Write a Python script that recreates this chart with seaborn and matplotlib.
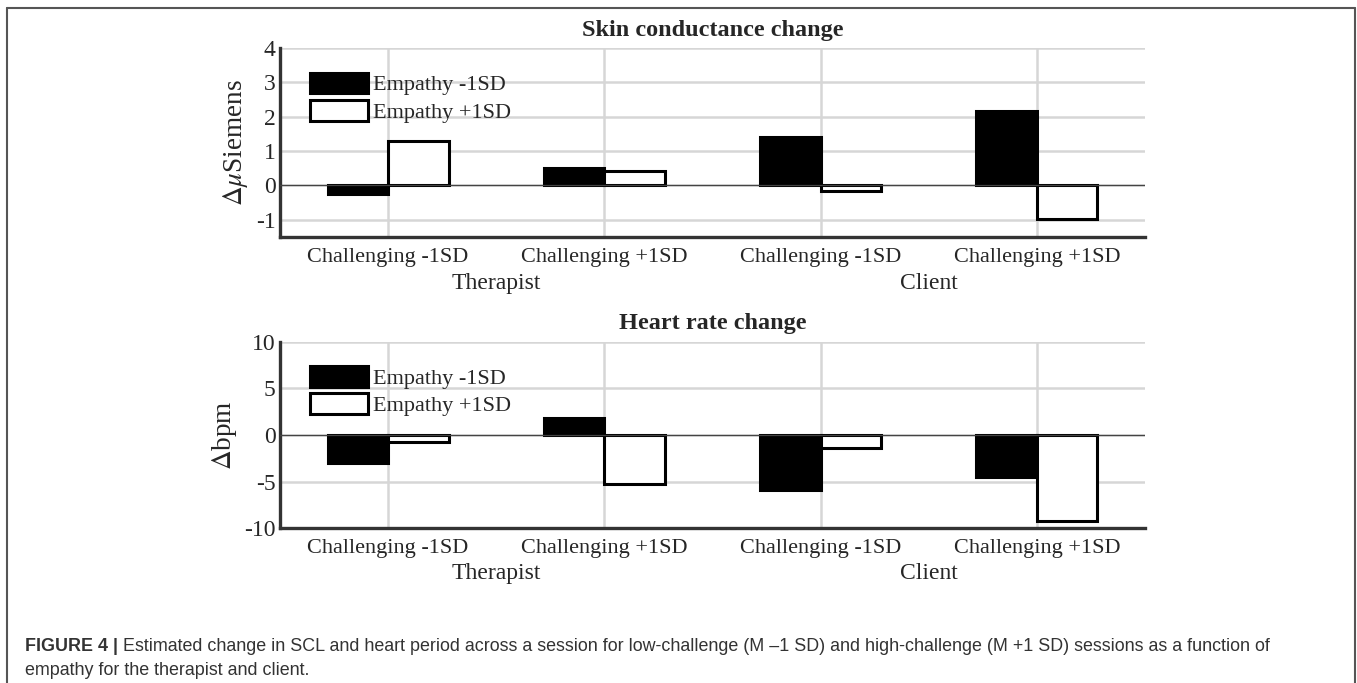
import numpy as np
import pandas as pd
import matplotlib
matplotlib.use("Agg")
import matplotlib.pyplot as plt
from matplotlib.lines import Line2D
from matplotlib.text import Annotation
import seaborn as sns

# datos
condiciones = ["Challenging -1SD", "Challenging +1SD", "Challenging -1SD ", "Challenging +1SD "]
etiquetas_x = ["Challenging -1SD", "Challenging +1SD", "Challenging -1SD", "Challenging +1SD"]
grupos = ["Therapist", "Client"]
series = ["Empathy -1SD", "Empathy +1SD"]

scl_bajo = [-0.25, 0.50, 1.40, 2.17]
scl_alto = [1.30, 0.42, -0.17, -0.97]
fc_bajo = [-3.0, 1.8, -5.9, -4.5]
fc_alto = [-0.7, -5.3, -1.4, -9.2]

sns.set_theme(style="white")
plt.rcParams["font.family"] = ["Liberation Serif", "DejaVu Serif"]
plt.rcParams["mathtext.fontset"] = "stix"
plt.rcParams["axes.unicode_minus"] = False


def armar_df(bajo, alto):
    return pd.DataFrame({
        "cond": condiciones * 2,
        "serie": [series[0]] * 4 + [series[1]] * 4,
        "valor": bajo + alto,
    })


def dibujar(ax, df, titulo, ylabel, ylim, yticks):
    sns.barplot(data=df, x="cond", y="valor", hue="serie", order=condiciones,
                hue_order=series, width=0.56, ax=ax, errorbar=None,
                saturation=1, zorder=3, legend=False)
    for cont, fc in zip(ax.containers, ["black", "white"]):
        for barra in cont:
            barra.set_facecolor(fc)
            barra.set_edgecolor("black")
            barra.set_linewidth(2.2)
    ax.set_xlim(-0.5, 3.5)
    ax.set_ylim(*ylim)
    ax.set_yticks(yticks)
    ax.set_xticks(range(4))
    ax.set_xticklabels(etiquetas_x, fontsize=16)
    ax.tick_params(axis="y", labelsize=17, pad=3, length=0)
    ax.tick_params(axis="x", pad=8, length=0)
    ax.grid(True, color="#d6d6d6", linewidth=1.8, zorder=0)
    ax.set_axisbelow(True)
    ax.axhline(0, color="#444444", linewidth=0.9, zorder=4)
    for lado in ["top", "right"]:
        ax.spines[lado].set_visible(False)
    for lado in ["left", "bottom"]:
        ax.spines[lado].set_color("#333333")
        ax.spines[lado].set_linewidth(2.4)
    ax.set_xlabel("")
    ax.set_ylabel(ylabel, fontsize=19.5, labelpad=4)
    ax.set_title(titulo, fontsize=17.5, fontweight="bold", pad=9)
    manejadores = [cont[0] for cont in ax.containers]
    ax.legend(manejadores, series, loc="upper left", bbox_to_anchor=(0.035, 0.87),
              frameon=False, fontsize=16, handlelength=2.6, handleheight=1.05,
              handletextpad=0.22, labelspacing=0.2, borderaxespad=0, borderpad=0)
    # etiquetas de grupo
    for i, g in enumerate(grupos):
        ax.text(0.5 + 2 * i, -0.19, g, transform=ax.get_xaxis_transform(),
                ha="center", va="top", fontsize=17)


fig = plt.figure(figsize=(13.57, 6.83), dpi=100)
ax1 = fig.add_axes([0.2063, 0.653, 0.6375, 0.2767])
ax2 = fig.add_axes([0.2063, 0.2269, 0.6375, 0.2724])

dibujar(ax1, armar_df(scl_bajo, scl_alto), "Skin conductance change",
        r"$\Delta\mu$Siemens", (-1.5, 4), [-1, 0, 1, 2, 3, 4])
dibujar(ax2, armar_df(fc_bajo, fc_alto), "Heart rate change",
        r"$\Delta$bpm", (-10, 10), [-10, -5, 0, 5, 10])

# marco de la figura
for xs, ys in [([0.0055, 0.0055], [0.0, 0.988]),
               ([0.0055, 0.9985], [0.988, 0.988]),
               ([0.9985, 0.9985], [0.988, 0.0])]:
    fig.add_artist(Line2D(xs, ys, transform=fig.transFigure, color="#555555", linewidth=1.5))

# leyenda de la figura
sans = ["Liberation Sans", "DejaVu Sans"]
t1 = fig.text(0.0185, 0.047, "FIGURE 4 |", family=sans, fontweight="bold",
              fontsize=12.9, color="#333333", va="baseline")
fig.add_artist(Annotation(
    "Estimated change in SCL and heart period across a session for "
    "low-challenge (M \u20131 SD) and high-challenge (M +1 SD) sessions as a function of",
    xy=(1, 0), xycoords=t1, xytext=(3.5, 0), textcoords="offset points",
    family=sans, fontsize=12.9, color="#333333", va="bottom"))
fig.text(0.0185, 0.012, "empathy for the therapist and client.", family=sans,
         fontsize=12.9, color="#333333", va="baseline")

fig.savefig("out.png", dpi=100)
